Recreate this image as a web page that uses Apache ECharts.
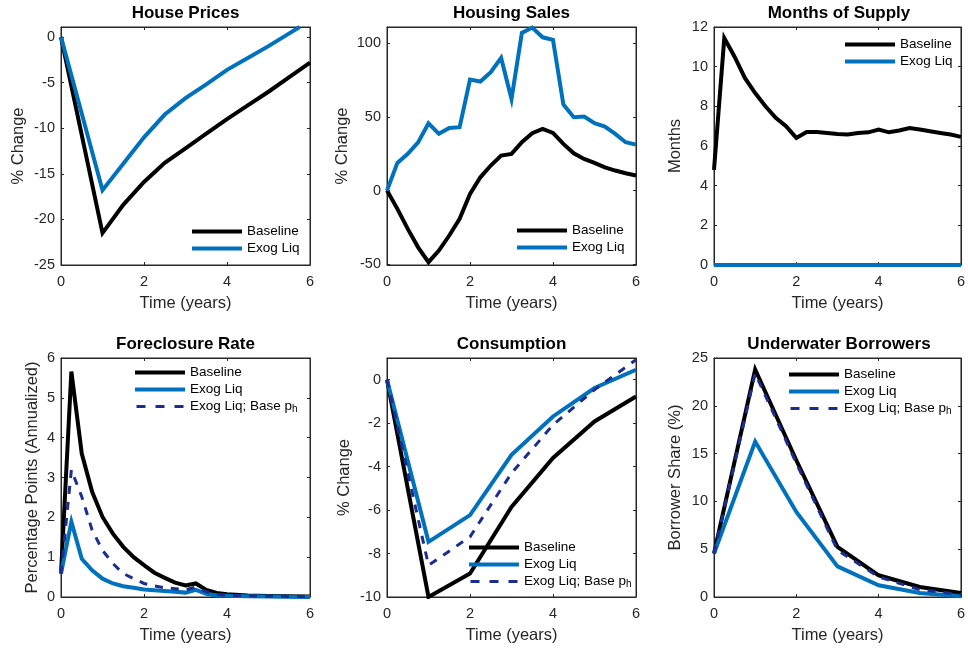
<!DOCTYPE html>
<html><head><meta charset="utf-8">
<script src="https://cdn.jsdelivr.net/npm/echarts@6/dist/echarts.min.js"></script>
<style>html,body{margin:0;padding:0;background:#fff}#c{width:968px;height:648px}</style>
</head><body><div id="c"></div>
<script>
// ---------- data ----------
const xTickValues = [0, 2, 4, 6];
const quarterTime = [0,0.25,0.5,0.75,1,1.25,1.5,1.75,2,2.25,2.5,2.75,3,3.25,3.5,3.75,4,4.25,4.5,4.75,5,5.25,5.5,5.75,6];
const yearTime = [0,1,2,3,4,5,6];

// House Prices
const housePriceTime = [0,1,1.5,2,2.5,3,3.5,4,4.5,5,5.5,6];
const housePriceBaseline = [0,-21.5,-18.4,-15.9,-13.8,-12.2,-10.6,-9.0,-7.5,-6.0,-4.4,-2.8];
const housePriceExogTime = [0,1,1.5,2,2.5,3,3.5,4,4.5,5,5.5,5.75];
const housePriceExog = [0,-16.8,-13.9,-11.0,-8.5,-6.7,-5.2,-3.6,-2.3,-1.0,0.4,1.1];

// Housing Sales (quarterly)
const salesBaseline = [0,-12.4,-26,-38.5,-48.6,-40.7,-30.5,-19.2,-2.3,9,17,23.8,24.9,32.8,38.9,41.9,39.1,31.7,25.3,21.5,18.8,15.8,13.6,11.8,10.2];
const salesExog = [0,18.8,24.9,32.8,45.7,38.5,42.5,43,75.3,74,80.3,90,62.2,107,110.6,104,102.3,58.4,49.8,50.2,45.7,43.4,38.5,32.8,31.2];

// Months of Supply (quarterly)
const supplyBaseline = [4.8,11.44,10.5,9.43,8.67,8.0,7.42,7.0,6.41,6.71,6.71,6.66,6.61,6.58,6.66,6.69,6.83,6.69,6.78,6.91,6.83,6.74,6.66,6.58,6.46];
const supplyExog = [0,0,0,0,0,0,0,0,0,0,0,0,0,0,0,0,0,0,0,0,0,0,0,0,0];

// Foreclosure Rate
const foreclosureTime = [0,0.25,0.5,0.75,1,1.25,1.5,1.75,2,2.25,2.5,2.75,3,3.25,3.5,3.75,4,4.5,5,6];
const foreclosureBaseline = [0.59,5.66,3.6,2.64,2.01,1.59,1.26,1.0,0.8,0.61,0.48,0.36,0.29,0.34,0.18,0.1,0.07,0.04,0.025,0.01];
const foreclosureExog = [0.59,1.89,0.96,0.67,0.46,0.34,0.27,0.23,0.19,0.17,0.15,0.13,0.11,0.18,0.08,0.04,0.03,0.02,0.01,0];
const foreclosureExogBaseP = [0.59,3.19,2.52,1.68,1.17,0.84,0.59,0.46,0.34,0.28,0.23,0.21,0.18,0.25,0.13,0.07,0.04,0.03,0.02,0.01];

// Consumption (annual)
const consBaseline = [0,-10,-8.92,-5.85,-3.6,-1.92,-0.77];
const consExog = [0,-7.46,-6.23,-3.46,-1.69,-0.38,0.46];
const consExogBaseP = [0,-8.54,-7.23,-4.3,-2.08,-0.46,0.92];

// Underwater Borrowers (annual)
const underBaseline = [4.55,23.8,14.3,5.24,2.27,1.05,0.42];
const underExog = [4.55,16.26,8.9,3.2,1.22,0.42,0.07];
const underExogBaseP = [4.55,23.4,14.0,4.9,2.1,0.77,0.25];

// tick labels
const hpYTicks = [-25,-20,-15,-10,-5,0];
const salesYTicks = [-50,0,50,100];
const supplyYTicks = [0,2,4,6,8,10,12];
const foreclosureYTicks = [0,1,2,3,4,5,6];
const consYTicks = [-10,-8,-6,-4,-2,0];
const underYTicks = [0,5,10,15,20,25];

// ---------- layout ----------
const FONT = 'Liberation Sans, Arial, Helvetica, sans-serif';
const AX = '#262626';
const BLACK = '#000000', BLUE = '#0072BD', NAVY = '#1b2d8f';
const DASH_ICON = 'path://M0,0L47,0M0,0.5h9v3h-9zM19,0.5h9v3h-9zM38,0.5h9v3h-9zM0,4L47,4';

const panels = [
  {title:'House Prices', left:61, top:27, width:249, height:238, ymin:-25, ymax:1.1, yticks:hpYTicks, ylabel:'% Change', nameGap:34, legend:{left:192, top:224}},
  {title:'Housing Sales', left:387, top:27, width:249, height:238, ymin:-50.5, ymax:111, yticks:salesYTicks, ylabel:'% Change', nameGap:36, legend:{left:517, top:223}},
  {title:'Months of Supply', left:714, top:27, width:250, height:238, ymin:0, ymax:12, yticks:supplyYTicks, ylabel:'Months', nameGap:30, legend:{left:845, top:37}},
  {title:'Foreclosure Rate', left:61, top:358, width:249, height:239, ymin:0, ymax:6, yticks:foreclosureYTicks, ylabel:'Percentage Points (Annualized)', nameGap:20, legend:{left:135, top:365}},
  {title:'Consumption', left:387, top:358, width:249, height:239, ymin:-10, ymax:1, yticks:consYTicks, ylabel:'% Change', nameGap:34, legend:{left:469, top:540}},
  {title:'Underwater Borrowers', left:714, top:358, width:250, height:239, ymin:0, ymax:25, yticks:underYTicks, ylabel:'Borrower Share (%)', nameGap:30, legend:{left:789, top:367}}
];

function zip(t, v) { return t.map((x, i) => [x, v[i]]); }

const seriesDefs = [
  [ ['Baseline', housePriceTime, housePriceBaseline, BLACK, 4, false],
    ['Exog Liq', housePriceExogTime, housePriceExog, BLUE, 4, false] ],
  [ ['Baseline', quarterTime, salesBaseline, BLACK, 4, false],
    ['Exog Liq', quarterTime, salesExog, BLUE, 4, false] ],
  [ ['Baseline', quarterTime, supplyBaseline, BLACK, 4, false],
    ['Exog Liq', quarterTime, supplyExog, BLUE, 4, false] ],
  [ ['Baseline', foreclosureTime, foreclosureBaseline, BLACK, 4, false],
    ['Exog Liq', foreclosureTime, foreclosureExog, BLUE, 4, false],
    ['Exog Liq; Base p_h', foreclosureTime, foreclosureExogBaseP, NAVY, 3, true] ],
  [ ['Baseline', yearTime, consBaseline, BLACK, 4, false],
    ['Exog Liq', yearTime, consExog, BLUE, 4, false],
    ['Exog Liq; Base p_h', yearTime, consExogBaseP, NAVY, 3, true] ],
  [ ['Baseline', yearTime, underBaseline, BLACK, 4, false],
    ['Exog Liq', yearTime, underExog, BLUE, 4, false],
    ['Exog Liq; Base p_h', yearTime, underExogBaseP, NAVY, 3, true] ]
];

const grid = [], xAxis = [], yAxis = [], series = [], legend = [], graphic = [];

panels.forEach((p, i) => {
  grid.push({left:p.left, top:p.top, width:p.width, height:p.height, containLabel:false,
    show:true, borderColor:AX, borderWidth:1, backgroundColor:'transparent'});
  const xBase = {type:'value', gridIndex:i, min:0, max:6,
    axisLine:{show:true, onZero:false, lineStyle:{color:AX, width:1}},
    axisTick:{show:true, inside:true, length:3, lineStyle:{color:AX}, customValues:xTickValues},
    splitLine:{show:false}};
  xAxis.push(Object.assign({}, xBase, {position:'bottom',
    axisLabel:{show:true, color:AX, fontSize:14.5, fontFamily:FONT, margin:9, customValues:xTickValues},
    name:'Time (years)', nameLocation:'middle', nameGap:30,
    nameTextStyle:{color:AX, fontSize:16.5, fontFamily:FONT}}));
  xAxis.push(Object.assign({}, xBase, {position:'top', axisLabel:{show:false}}));
  const yBase = {type:'value', gridIndex:i, min:p.ymin, max:p.ymax,
    axisLine:{show:true, onZero:false, lineStyle:{color:AX, width:1}},
    axisTick:{show:true, inside:true, length:3, lineStyle:{color:AX}, customValues:p.yticks},
    splitLine:{show:false}};
  yAxis.push(Object.assign({}, yBase, {position:'left',
    axisLabel:{show:true, color:AX, fontSize:14.5, fontFamily:FONT, margin:6, customValues:p.yticks},
    name:p.ylabel, nameLocation:'middle', nameGap:p.nameGap, nameRotate:90,
    nameTextStyle:{color:AX, fontSize:16.5, fontFamily:FONT}}));
  yAxis.push(Object.assign({}, yBase, {position:'right', axisLabel:{show:false}}));

  const legendData = [];
  seriesDefs[i].forEach(d => {
    const nm = d[0] + '#' + i;
    legendData.push({name:nm, icon: d[5] ? DASH_ICON : 'rect'});
    series.push({type:'line', name:nm, xAxisIndex:2*i, yAxisIndex:2*i,
      data:zip(d[1], d[2]), symbol:'none', showSymbol:false, clip:true,
      lineStyle:{color:d[3], width:d[4], type: d[5] ? [8, 8] : 'solid', cap:'butt', join:'miter'},
      itemStyle:{color:d[3]}, emphasis:{disabled:true}});
  });
  legend.push({orient:'vertical', left:p.legend.left, top:p.legend.top, padding:0,
    itemWidth:50, itemHeight:4, itemGap:2, itemTextGap:4, data:legendData, selectedMode:false,
    formatter: n => { const s = n.split('#')[0]; return s === 'Exog Liq; Base p_h' ? 'Exog Liq; Base p{sub|h}' : s; },
    textStyle:{color:'#000', fontSize:13.5, fontFamily:FONT, lineHeight:15,
      rich:{sub:{fontSize:10, fontFamily:FONT, color:'#000', padding:[9,0,0,0], verticalAlign:'bottom'}}}});
  graphic.push({type:'text', x:p.left + p.width/2, y:p.top - 14,
    style:{text:p.title, fontSize:17, fontWeight:'bold', fontFamily:FONT, fill:'#000', textAlign:'center', textVerticalAlign:'middle'}});
});

const chart = echarts.init(document.getElementById('c'), null, {renderer:'canvas'});
chart.setOption({animation:false, backgroundColor:'#fff', grid, xAxis, yAxis, series, legend, graphic});
</script></body></html>
